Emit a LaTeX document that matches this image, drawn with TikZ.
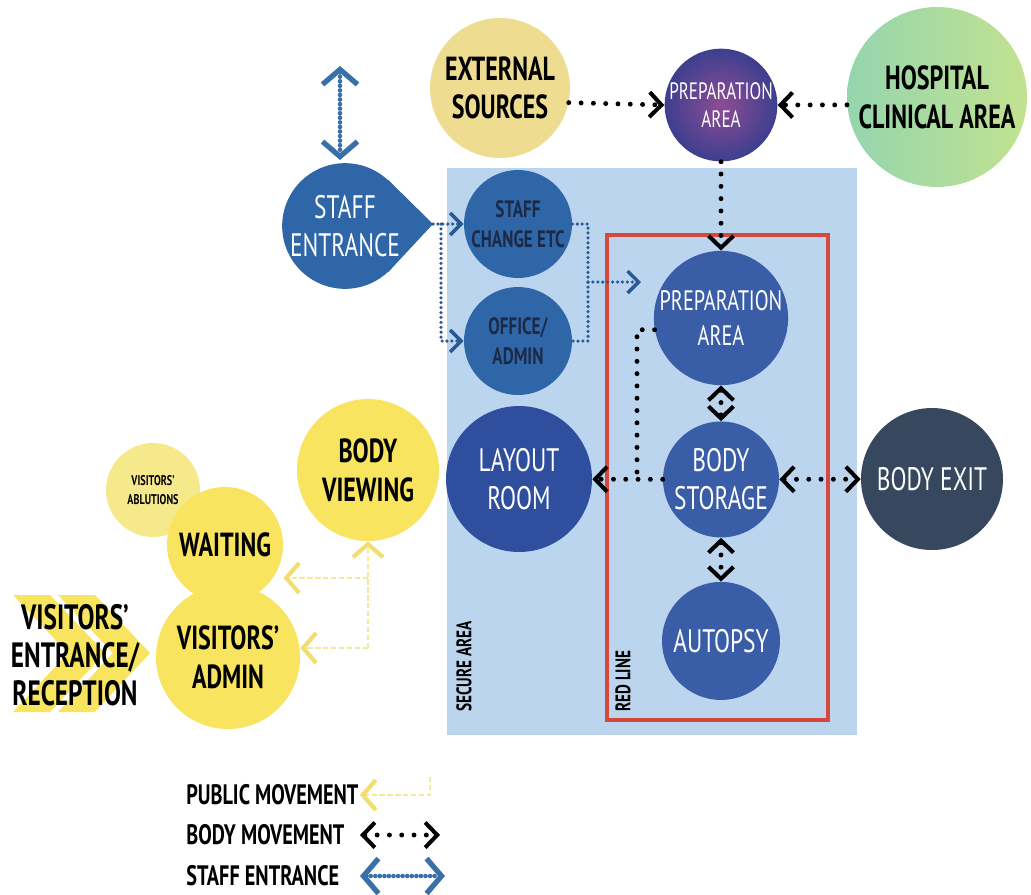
\documentclass[tikz,border=0pt]{standalone}
\usepackage{fontspec}
\setmainfont{PT Sans}[FakeStretch=0.72]
\usepackage{xcolor}
\usetikzlibrary{shapes,arrows.meta,positioning,calc,backgrounds}

\definecolor{roomblue}{HTML}{3A5DA8}
\definecolor{layblue}{HTML}{2F4F9E}
\definecolor{staffblue}{HTML}{2E66A8}
\definecolor{stafftxt}{HTML}{1C2A48}
\definecolor{exitgrey}{HTML}{36475E}
\definecolor{prepviolet}{HTML}{3D3F8F}
\definecolor{prepmag}{HTML}{8E4C94}
\definecolor{extyellow}{HTML}{EEDC90}
\definecolor{hospgreen}{HTML}{95D5AE}
\definecolor{hosplime}{HTML}{C2E290}
\definecolor{pubyellow}{HTML}{F8E45E}
\definecolor{ablyellow}{HTML}{F6E98C}
\definecolor{publine}{HTML}{F2EA96}
\definecolor{pubtip}{HTML}{F1DE70}
\definecolor{securebg}{HTML}{BCD5EF}
\definecolor{redline}{HTML}{D8473B}
\definecolor{arrowblue}{HTML}{3A70AA}
\definecolor{dotblue}{HTML}{2A5894}

\begin{document}
\begin{tikzpicture}[x=0.02cm, y=-0.02cm, node distance=3.23cm]
  \tikzstyle{room}=[circle, inner sep=0pt, align=center, font=\fontsize{18.5}{21.5}\selectfont]
  \tikzstyle{bluerm}=[room, fill=roomblue, text=white]
  \tikzstyle{yelrm}=[room, fill=pubyellow, text=black, font=\bfseries\fontsize{19}{22}\selectfont]
  \tikzstyle{staffrm}=[room, fill=staffblue, text=stafftxt, font=\bfseries\fontsize{13.5}{17}\selectfont]
  \tikzstyle{bodymv}=[draw=black, line width=2.8pt, line cap=round, dash pattern=on 0pt off 7pt, >={Straight Barb[length=2.4mm, width=5mm, line width=2.3pt]}]
  \tikzstyle{staffmv}=[draw=dotblue, line width=2pt, line cap=round, dash pattern=on 0pt off 2.8pt, >={Straight Barb[length=2.2mm, width=4.4mm, line width=2pt]}]
  \tikzstyle{entrmv}=[draw=arrowblue, line width=2.6pt, line cap=round, dash pattern=on 0pt off 2.6pt, >={Straight Barb[length=3mm, width=7mm, line width=3pt]}]
  \tikzstyle{pubmv}=[draw=publine, line width=1.6pt, dash pattern=on 3pt off 1.5pt, >={Straight Barb[length=2.6mm, width=6mm, line width=2.4pt, color=pubtip]}]
  \tikzstyle{legtxt}=[anchor=west, inner sep=0pt, font=\bfseries\fontsize{16}{18}\selectfont]
  \tikzstyle{areatxt}=[rotate=90, anchor=west, inner sep=0pt, font=\bfseries\fontsize{12}{14}\selectfont]

  \useasboundingbox (0,0) rectangle (1031,894);

  % secure area and red line
  \fill[securebg] (447,168) rectangle (857,735);
  \draw[redline, line width=2.3pt] (607,235) rectangle (828,720);
  \node[areatxt] (seclbl) at (464,712) {SECURE AREA};
  \node[areatxt] (redlbl) at (623,712) {RED LINE};

  % rooms
  \node[room, inner color=prepmag, outer color=prepviolet, text=white, minimum size=2.2cm, font=\fontsize{13.5}{16}\selectfont] (prepout) at (721,105) {PREPARATION\\AREA};
  \node[room, fill=extyellow, text=black, minimum size=2.8cm, font=\bfseries\fontsize{19}{22}\selectfont] (extsrc) at (500,88) {EXTERNAL\\SOURCES};
  \node[room, left color=hospgreen, right color=hosplime, text=black, minimum size=3.6cm, font=\bfseries\fontsize{19}{22}\selectfont] (hosp) at (937,97) {HOSPITAL\\CLINICAL AREA};

  \node[bluerm, minimum size=2.48cm, font=\fontsize{16}{20}\selectfont] (prepin) at (721,318) {PREPARATION\\AREA};
  \node[bluerm, minimum size=2.32cm, below of=prepin] (storage) {BODY\\STORAGE};
  \node[bluerm, minimum size=2.36cm, below of=storage] (autopsy) {AUTOPSY};
  \node[bluerm, fill=layblue, minimum size=2.92cm] (layout) at (519,479) {LAYOUT\\ROOM};
  \node[bluerm, fill=exitgrey, minimum size=2.84cm] (exit) at (932,479) {BODY EXIT};

  \node[bluerm, fill=staffblue, minimum size=2.4cm] (staff) at (345,226) {STAFF\\ENTRANCE};
  \coordinate (tip) at (433,224);
  \begin{scope}[on background layer]
    \fill[staffblue] (staff.47) -- (tip) -- (staff.-47) -- cycle;
  \end{scope}
  \node[staffrm, minimum size=2.16cm] (change) at (518,224) {STAFF\\CHANGE ETC};
  \node[staffrm, minimum size=2.16cm] (office) at (518,341) {OFFICE/\\ADMIN};

  \node[room, fill=ablyellow, minimum size=1.88cm, font=\bfseries\fontsize{8}{11}\selectfont] (ablut) at (153,490) {VISITORS'\\ABLUTIONS};
  \node[yelrm, minimum size=2.32cm] (waiting) at (225,545) {WAITING};
  \node[yelrm, minimum size=2.88cm] (vadmin) at (228,657) {VISITORS'\\ADMIN};
  \node[yelrm, minimum size=2.84cm] (viewing) at (368,470) {BODY\\VIEWING};

  \fill[pubyellow] (13,595) -- (50,595) -- (105,653) -- (50,712) -- (13,712) -- (68,653) -- cycle;
  \fill[pubyellow] (58,595) -- (95,595) -- (150,653) -- (95,712) -- (58,712) -- (113,653) -- cycle;
  \node[align=center, inner sep=0pt, font=\bfseries\fontsize{20}{21.5}\selectfont] (ventr) at (75,655) {VISITORS'\\ENTRANCE/\\RECEPTION};

  % body movement
  \draw[bodymv, ->] (extsrc.-12) -- (prepout.west);
  \draw[bodymv, ->] (hosp.185) -- (prepout.east);
  \draw[bodymv, ->] (prepout) -- (prepin);
  \draw[bodymv, <->] (prepin) -- (storage);
  \draw[bodymv, <->] (storage) -- (autopsy);
  \draw[bodymv, <->] (storage) -- (exit);
  \draw[bodymv, ->] (storage) -- (layout);
  \coordinate (bj) at (637,479);
  \draw[bodymv] (prepin.190) -| (bj);

  % staff movement
  \coordinate (se1) at (340,66);
  \coordinate (se2) at (340,160);
  \draw[entrmv, <->] (se1) -- (se2);
  \coordinate (sj) at (441,224);
  \coordinate (rj) at (588,282);
  \coordinate (sarr) at (641,282);
  \draw[staffmv, ->] (tip) -- (change.west);
  \draw[staffmv, ->] (sj) |- (office.west);
  \draw[staffmv] (change.east) -| (rj) |- (office.east);
  \draw[staffmv, ->] (rj) -- (sarr);

  % public movement
  \coordinate (pj1) at (368,578);
  \coordinate (pj2) at (368,648);
  \draw[pubmv, ->] (pj2) -- (viewing);
  \draw[pubmv, ->] (pj1) -- (pj1 -| waiting.east);
  \draw[pubmv, ->] (pj2) -- (pj2 -| vadmin.east);

  % legend
  \node[legtxt] (lgpub) at (186,795) {PUBLIC MOVEMENT};
  \node[legtxt] (lgbody) at (186,835) {BODY MOVEMENT};
  \node[legtxt] (lgstaff) at (186,876) {STAFF ENTRANCE};
  \coordinate (lp1) at (430,777);
  \coordinate (lp2) at (360,795);
  \coordinate (lb1) at (360,835);
  \coordinate (lb2) at (440,835);
  \coordinate (ls1) at (360,876);
  \coordinate (ls2) at (445,876);
  \draw[pubmv, ->] (lp1) |- (lp2);
  \draw[bodymv, <->] (lb1) -- (lb2);
  \draw[entrmv, <->] (ls1) -- (ls2);
\end{tikzpicture}
\end{document}
